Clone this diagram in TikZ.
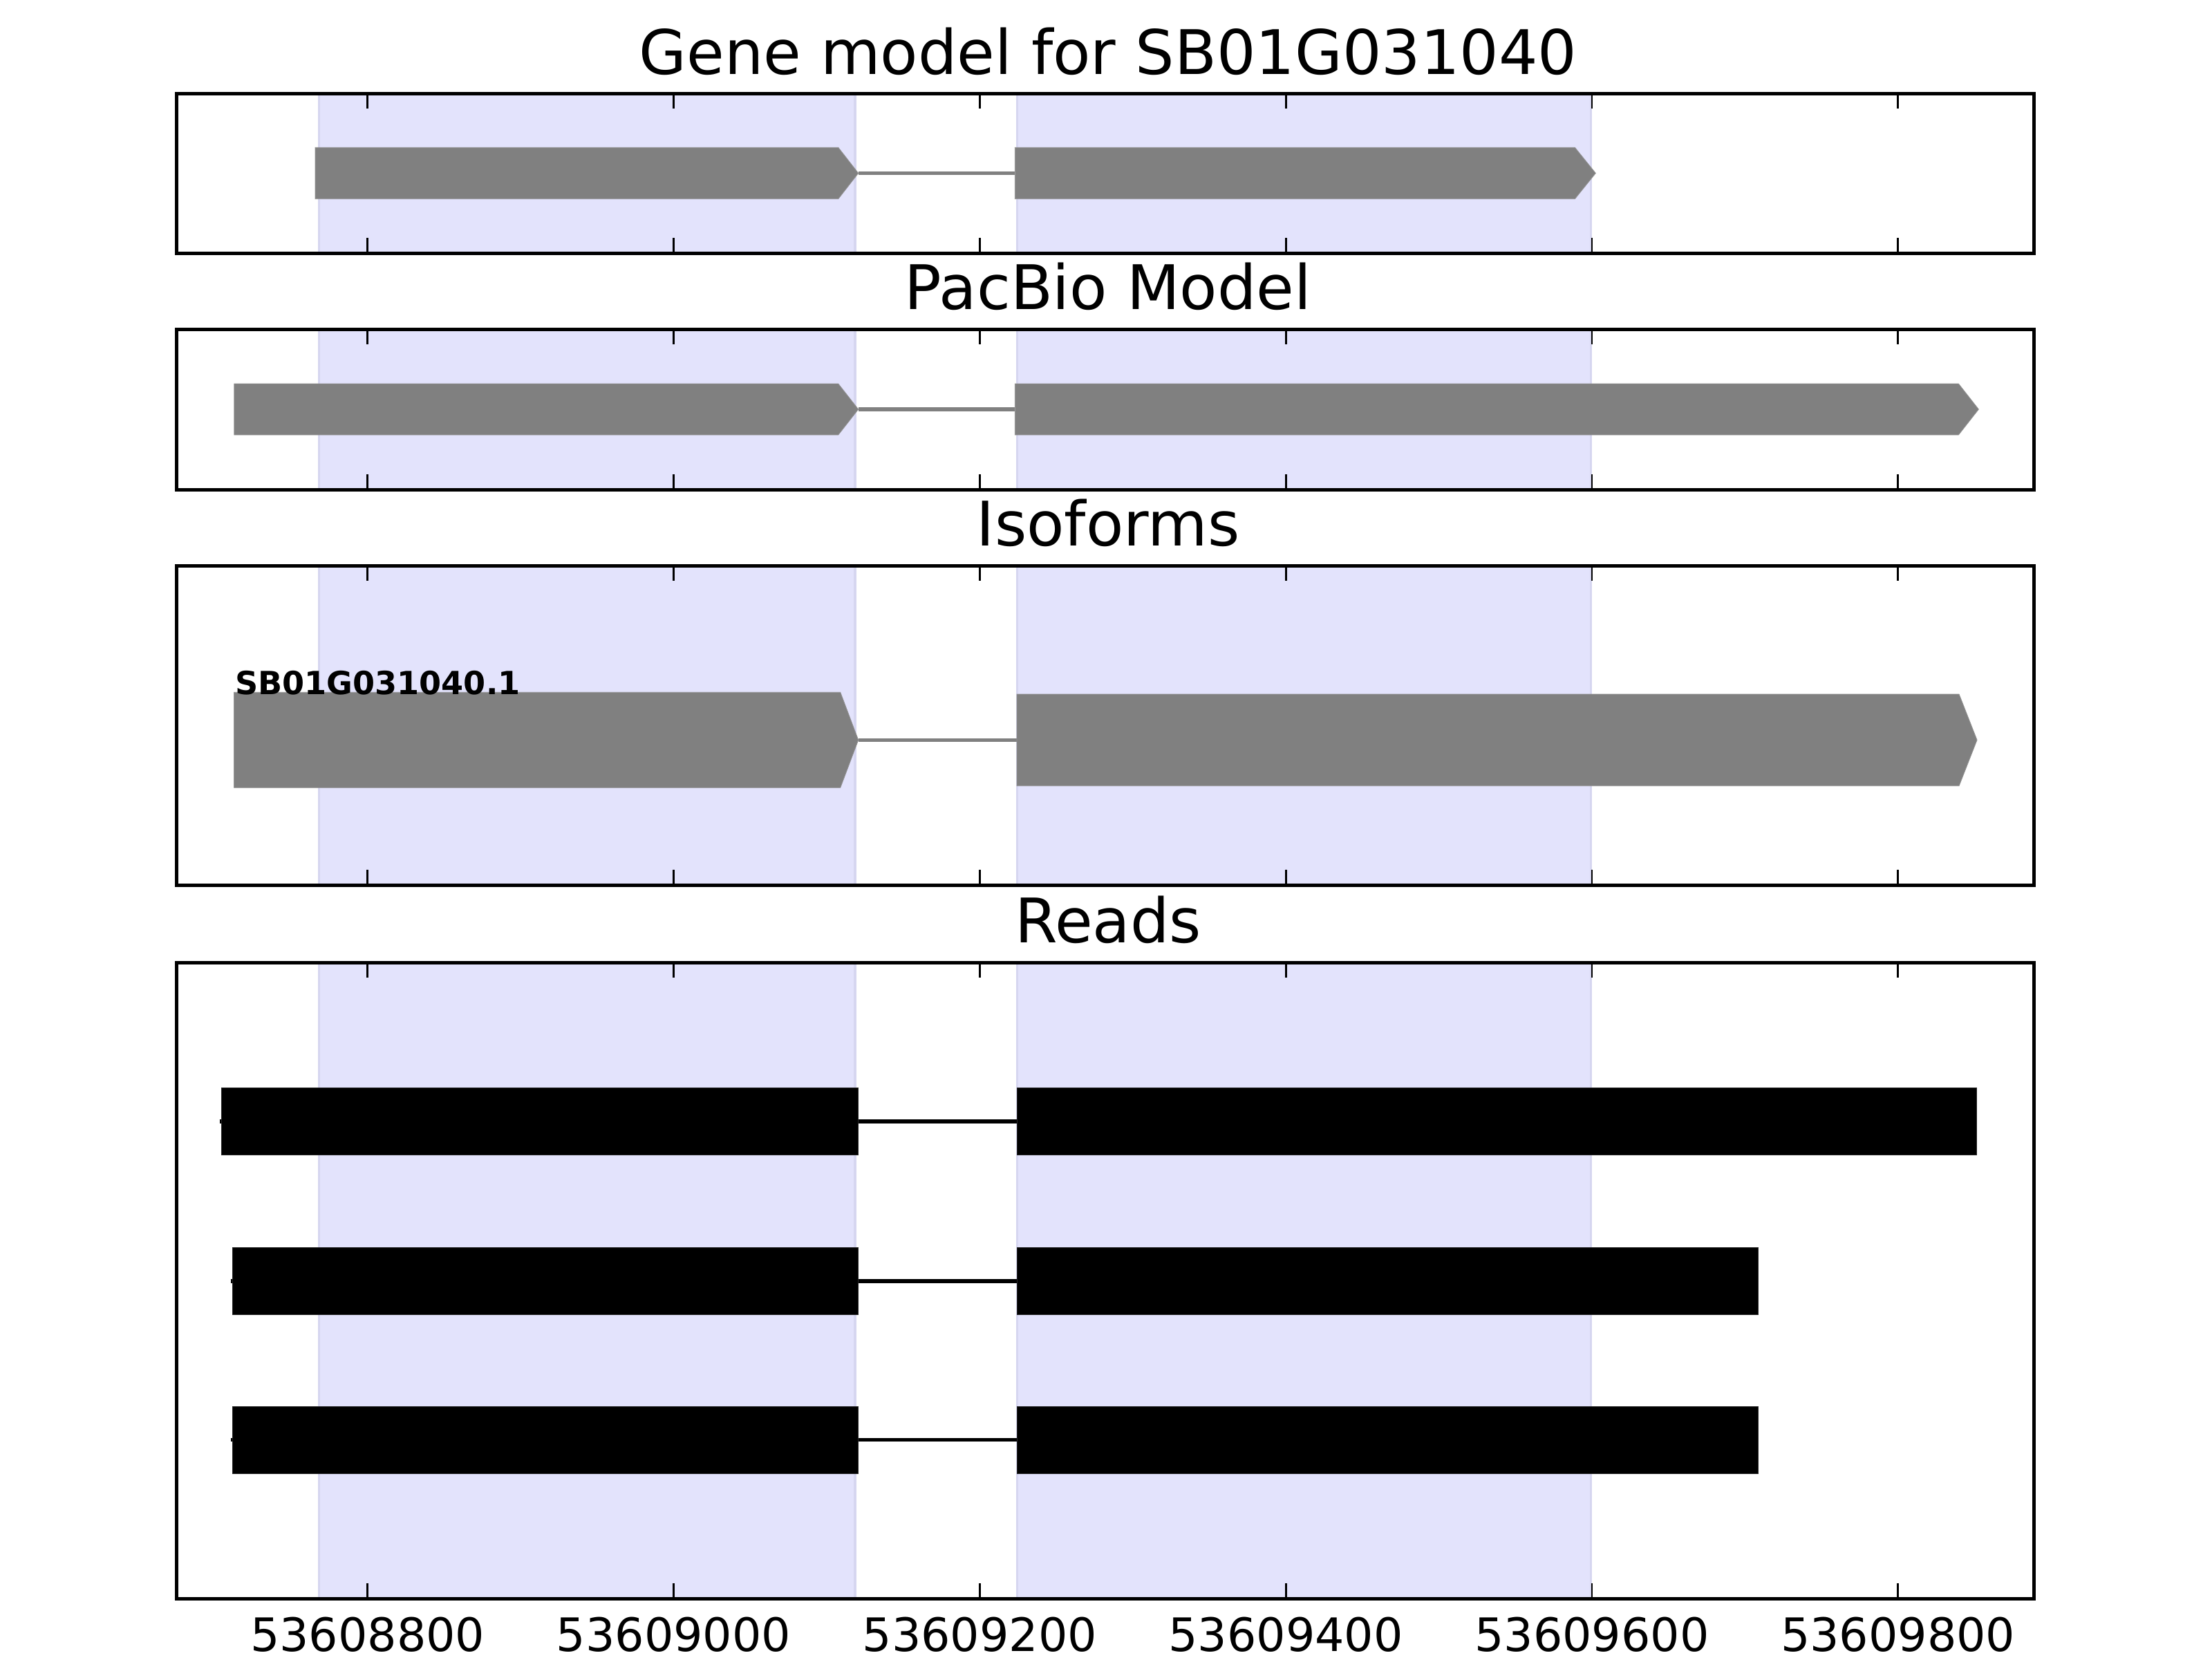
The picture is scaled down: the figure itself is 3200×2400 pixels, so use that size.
\documentclass[tikz,border=0pt]{standalone}
\usepackage{fontspec}
\setmainfont{DejaVu Sans}
\definecolor{spanfill}{RGB}{227,227,252}
\definecolor{spanedge}{RGB}{214,214,240}
\definecolor{exongray}{RGB}{128,128,128}
\begin{document}
\begin{tikzpicture}[x=0.18pt,y=-0.18pt,
  frame/.style={draw=black,line width=0.9pt},
  tickmark/.style={draw=black,line width=0.5pt},
  spanbox/.style={fill=spanfill},
  spanline/.style={draw=spanedge,line width=0.55pt},
  exon/.style={fill=exongray,draw=exongray!85!white,line width=0.15pt},
  intron/.style={draw=exongray,line width=1.0pt},
  readblock/.style={fill=black,draw=black!85,line width=0.15pt},
  readline/.style={draw=black,line width=1.0pt},
  paneltitle/.style={anchor=base,inner sep=0pt,font=\fontsize{16}{19}\selectfont},
  ticklabel/.style={anchor=base,inner sep=0pt,font=\fontsize{12}{14}\selectfont},
  isolabel/.style={anchor=base west,inner sep=0pt,font=\fontsize{8.3}{10}\selectfont\bfseries},
]
\useasboundingbox[fill=white] (0,0) rectangle (3200,2400);

% shaded exon spans
\foreach \t/\b in {135/366,476/708,818/1280,1392/2312}{
  \fill[spanbox] (461.7,\t) rectangle (1237,\b);
  \fill[spanbox] (1471.7,\t) rectangle (2301.7,\b);
  \draw[spanline] (461.7,\t) -- (461.7,\b);
  \draw[spanline] (1237,\t) -- (1237,\b);
  \draw[spanline] (1471.7,\t) -- (1471.7,\b);
  \draw[spanline] (2301.7,\t) -- (2301.7,\b);
}

% titles
\node[paneltitle] (t1) at (1603,107) {Gene model for SB01G031040};
\node[paneltitle] (t2) at (1603,447.5) {PacBio Model};
\node[paneltitle] (t3) at (1603,789.5) {Isoforms};
\node[paneltitle] (t4) at (1603,1363.5) {Reads};

% panel 1: gene model
\coordinate (g1e) at (1241.7,250.5);
\coordinate (g2s) at (1468.3,250.5);
\draw[intron] (g1e) -- (g2s);
\filldraw[exon] (456,213.3) -- (1212.7,213.3) -- (g1e) -- (1212.7,287.7) -- (456,287.7) -- cycle;
\filldraw[exon] (1468.3,213.3) -- (2278.3,213.3) -- (2308.3,250.5) -- (2278.3,287.7) -- (1468.3,287.7) -- cycle;

% panel 2: PacBio model
\coordinate (p1e) at (1241.7,592);
\coordinate (p2s) at (1468.3,592);
\draw[intron] (p1e) -- (p2s);
\filldraw[exon] (338.8,555) -- (1212.7,555) -- (p1e) -- (1212.7,629) -- (338.8,629) -- cycle;
\filldraw[exon] (1468.3,555) -- (2833.3,555) -- (2862.3,592) -- (2833.3,629) -- (1468.3,629) -- cycle;

% panel 3: isoforms
\coordinate (i1e) at (1241.7,1070.3);
\coordinate (i2s) at (1471,1070.3);
\draw[intron] (i1e) -- (i2s);
\filldraw[exon] (338.6,1001.3) -- (1215.7,1001.3) -- (i1e) -- (1215.7,1139.3) -- (338.6,1139.3) -- cycle;
\filldraw[exon] (1471,1004) -- (2834,1004) -- (2860,1070.3) -- (2834,1136.7) -- (1471,1136.7) -- cycle;
\node[isolabel] (iso) at (339,1004) {SB01G031040.1};

% panel 4: reads
\foreach \c/\s/\ls/\e [count=\k] in {1621.8/320/317.5/2859, 1852.9/336/333.5/2543, 2082.6/336/333.5/2543}{
  \coordinate (r\k a) at (\ls,\c);
  \coordinate (r\k b) at (\e,\c);
  \draw[readline] (r\k a) -- (r\k b);
  \filldraw[readblock] (\s,\c-48.4) rectangle (1241.7,\c+48.4);
  \filldraw[readblock] (1471,\c-48.4) rectangle (\e,\c+48.4);
}

% ticks and frames
\foreach \t/\b in {135/366,476/708,818/1280,1392/2312}{
  \foreach \x in {531.7,974.5,1417.3,1860.1,2302.9,2745.7}{
    \draw[tickmark] (\x,\t) -- ++(0,22);
    \draw[tickmark] (\x,\b) -- ++(0,-22);
  }
  \draw[frame] (255.6,\t) rectangle (2942,\b);
}

% tick labels
\node[ticklabel] (l1) at (531.7,2388) {53608800};
\node[ticklabel] (l2) at (974.5,2388) {53609000};
\node[ticklabel] (l3) at (1417.3,2388) {53609200};
\node[ticklabel] (l4) at (1860.1,2388) {53609400};
\node[ticklabel] (l5) at (2302.9,2388) {53609600};
\node[ticklabel] (l6) at (2745.7,2388) {53609800};
\end{tikzpicture}
\end{document}
